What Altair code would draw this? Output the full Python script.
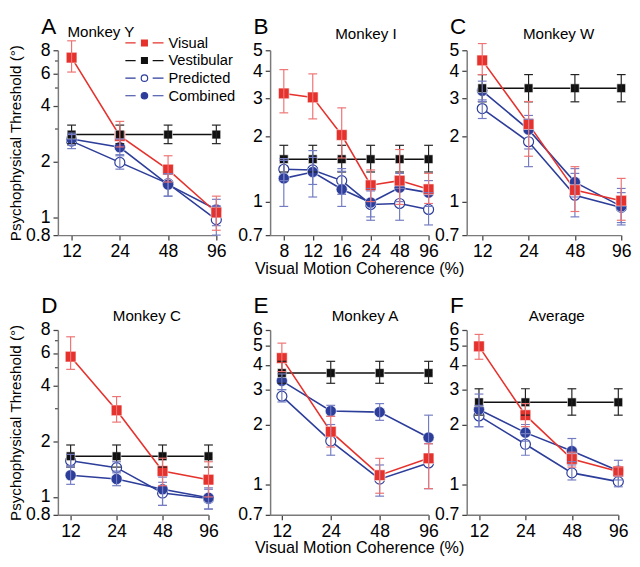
import altair as alt
import pandas as pd

FONT = "Liberation Sans"
SERIES = ["Visual", "Vestibular", "Predicted", "Combined"]
RED, BLACK, BLUE = "#E5322D", "#111111", "#2C3D9A"
LINE_COL = {"Visual": RED, "Vestibular": BLACK, "Predicted": BLUE, "Combined": BLUE}
ERR_COL = {"Visual": "#EE7373", "Vestibular": "#222222", "Predicted": "#737CC2", "Combined": "#737CC2"}

# ---------------- data ----------------
# Panel A - Monkey Y
A_coh = ["12", "24", "48", "96"]
A_vis = [7.3, 2.75, 1.81, 1.06]
A_vis_lo = [6.1, 2.4, 1.55, 0.85]
A_vis_hi = [9.0, 3.3, 2.15, 1.3]
A_ves = [2.8, 2.8, 2.8, 2.8]
A_ves_lo = [2.5, 2.5, 2.5, 2.5]
A_ves_hi = [3.15, 3.15, 3.15, 3.15]
A_pre = [2.58, 1.98, 1.52, 0.97]
A_pre_lo = [2.35, 1.82, 1.3, 0.8]
A_pre_hi = [2.8, 2.18, 1.72, 1.15]
A_com = [2.65, 2.39, 1.5, 1.1]
A_com_lo = [2.45, 2.15, 1.3, 0.9]
A_com_hi = [2.85, 2.65, 1.72, 1.25]

# Panel B - Monkey I
B_coh = ["8", "12", "16", "24", "48", "96"]
B_vis = [3.16, 3.03, 2.03, 1.19, 1.25, 1.14]
B_vis_lo = [2.57, 2.41, 1.59, 1.0, 0.97, 0.98]
B_vis_hi = [4.07, 3.89, 2.71, 1.4, 1.74, 1.35]
B_ves = [1.57, 1.57, 1.57, 1.57, 1.57, 1.57]
B_ves_lo = [1.37, 1.37, 1.37, 1.37, 1.37, 1.37]
B_ves_hi = [1.82, 1.82, 1.82, 1.82, 1.82, 1.82]
B_pre = [1.41, 1.40, 1.25, 0.97, 0.98, 0.92]
B_pre_lo = [1.25, 1.2, 1.08, 0.82, 0.82, 0.78]
B_pre_hi = [1.58, 1.6, 1.42, 1.12, 1.15, 1.1]
B_com = [1.28, 1.37, 1.14, 0.99, 1.16, 1.10]
B_com_lo = [0.95, 1.05, 0.95, 0.85, 1.0, 0.95]
B_com_hi = [1.55, 1.72, 1.38, 1.15, 1.35, 1.25]

# Panel C - Monkey W
C_coh = ["12", "24", "48", "96"]
C_vis = [4.49, 2.28, 1.13, 1.01]
C_vis_lo = [3.86, 1.62, 0.9, 0.82]
C_vis_hi = [5.37, 2.9, 1.45, 1.28]
C_ves = [3.34, 3.34, 3.34, 3.34]
C_ves_lo = [2.89, 2.89, 2.89, 2.89]
C_ves_hi = [3.86, 3.86, 3.86, 3.86]
C_pre = [2.69, 1.89, 1.07, 0.94]
C_pre_lo = [2.42, 1.45, 0.85, 0.78]
C_pre_hi = [2.95, 2.4, 1.35, 1.1]
C_com = [3.25, 2.15, 1.23, 0.95]
C_com_lo = [2.9, 1.75, 1.05, 0.8]
C_com_hi = [3.6, 2.5, 1.42, 1.15]

# Panel D - Monkey C
D_coh = ["12", "24", "48", "96"]
D_vis = [5.74, 2.94, 1.38, 1.24]
D_vis_lo = [4.9, 2.54, 1.15, 1.0]
D_vis_hi = [7.35, 3.49, 1.62, 1.55]
D_ves = [1.66, 1.66, 1.66, 1.66]
D_ves_lo = [1.45, 1.45, 1.45, 1.45]
D_ves_hi = [1.91, 1.91, 1.91, 1.91]
D_pre = [1.57, 1.44, 1.05, 0.98]
D_pre_lo = [1.45, 1.35, 0.9, 0.86]
D_pre_hi = [1.7, 1.55, 1.2, 1.1]
D_com = [1.31, 1.25, 1.10, 0.99]
D_com_lo = [1.17, 1.15, 0.9, 0.86]
D_com_hi = [1.48, 1.38, 1.28, 1.12]

# Panel E - Monkey A
E_coh = ["12", "24", "48", "96"]
E_vis = [4.33, 1.84, 1.11, 1.35]
E_vis_lo = [3.7, 1.54, 0.9, 0.95]
E_vis_hi = [5.15, 2.2, 1.35, 1.6]
E_ves = [3.64, 3.64, 3.64, 3.64]
E_ves_lo = [3.23, 3.23, 3.23, 3.23]
E_ves_hi = [4.17, 4.17, 4.17, 4.17]
E_pre = [2.78, 1.65, 1.06, 1.28]
E_pre_lo = [2.6, 1.4, 0.87, 0.95]
E_pre_hi = [3.0, 2.0, 1.25, 1.6]
E_com = [3.32, 2.34, 2.31, 1.72]
E_com_lo = [3.0, 2.2, 2.1, 0.95]
E_com_hi = [3.6, 2.5, 2.55, 2.23]

# Panel F - Average
F_coh = ["12", "24", "48", "96"]
F_vis = [4.96, 2.23, 1.34, 1.16]
F_vis_lo = [4.27, 1.95, 1.22, 1.1]
F_vis_hi = [5.7, 2.55, 1.45, 1.22]
F_ves = [2.59, 2.59, 2.59, 2.59]
F_ves_lo = [2.23, 2.23, 2.23, 2.23]
F_ves_hi = [3.03, 3.03, 3.03, 3.03]
F_pre = [2.21, 1.59, 1.14, 1.03]
F_pre_lo = [1.95, 1.4, 1.05, 0.97]
F_pre_hi = [2.5, 1.8, 1.25, 1.1]
F_com = [2.38, 1.82, 1.47, 1.17]
F_com_lo = [1.95, 1.65, 1.3, 1.05]
F_com_hi = [2.85, 2.0, 1.7, 1.32]

PANEL_LETTERS = ["A", "B", "C", "D", "E", "F"]
PANEL_TITLES = ["Monkey Y", "Monkey I", "Monkey W", "Monkey C", "Monkey A", "Average"]
Y_TITLE = "Psychophysical Threshold (°)"
X_TITLE = "Visual Motion Coherence (%)"

# legend symbols: line - marker - line
SQ_PATH = "M-6.5,0H-3M-1,-1H1V1H-1ZM2.8,0H6.5"
CI_PATH = "M-6.5,0H-3M1.1,0A1.1,1.1,0,1,1,-1.1,0A1.1,1.1,0,1,1,1.1,0ZM2.8,0H6.5"


def panel_df(coh, series):
    rows = []
    for s, (m, lo, hi) in series.items():
        for i in range(len(coh)):
            rows.append({"series": s, "i": i, "m": m[i], "lo": lo[i], "hi": hi[i]})
    return pd.DataFrame(rows)


def make_panel(idx, coh, series, width, pad, ydom, yticks, minor, title_x, title_y,
               xtitle=False, ytitle=False, legend=False):
    df = panel_df(coh, series)
    n = len(coh)
    lab_expr = "[" + ",".join("'%s'" % c for c in coh) + "][datum.value]"
    common_x = dict(values=list(range(n)), labelExpr=lab_expr, grid=False, labelFlush=False,
                    labelOverlap=False)
    if xtitle:
        xaxis = alt.Axis(title=X_TITLE, titleX=91, titleY=26, titleFontSize=16.5, **common_x)
    else:
        xaxis = alt.Axis(title=None, **common_x)
    common_y = dict(values=yticks, format="~g", grid=False, labelOverlap=False, labelFlush=False)
    if ytitle:
        yaxis = alt.Axis(title=Y_TITLE, titlePadding=2, **common_y)
    else:
        yaxis = alt.Axis(title=None, **common_y)
    xs = alt.Scale(domain=[-pad, n - 1], nice=False, zero=False)
    ys = alt.Scale(type="log", domain=ydom, nice=False)
    X = alt.X("i:Q", scale=xs, axis=xaxis)

    def Y(f):
        return alt.Y(f + ":Q", scale=ys, axis=yaxis)

    line_order = ["Vestibular", "Predicted", "Combined", "Visual"]
    marker_order = ["Predicted", "Combined", "Visual", "Vestibular"]
    layers = []
    for s in line_order:
        d = df[df.series == s]
        layers.append(alt.Chart(d).mark_line(color=LINE_COL[s], strokeWidth=1.6).encode(x=X, y=Y("m")))
    for s in marker_order:
        d = df[df.series == s]
        if s == "Visual":
            mk = alt.Chart(d).mark_point(shape="square", filled=True, fill=RED, stroke="white",
                                         strokeWidth=0.6, size=120, opacity=1)
        elif s == "Vestibular":
            mk = alt.Chart(d).mark_point(shape="square", filled=True, fill=BLACK, stroke="white",
                                         strokeWidth=0.6, size=80, opacity=1)
        elif s == "Predicted":
            mk = alt.Chart(d).mark_point(shape="circle", filled=True, fill="white", stroke=BLUE,
                                         strokeWidth=1.2, size=105, opacity=1)
        else:
            mk = alt.Chart(d).mark_point(shape="circle", filled=True, fill=BLUE, stroke="white",
                                         strokeWidth=0.6, size=130, opacity=1)
        layers.append(mk.encode(x=X, y=Y("m")))
    for s in line_order:
        d = df[df.series == s]
        layers.append(alt.Chart(d).mark_rule(color=ERR_COL[s], strokeWidth=1.2).encode(
            x=X, y=Y("lo"), y2="hi:Q"))
        for f in ["lo", "hi"]:
            layers.append(alt.Chart(d).mark_tick(color=ERR_COL[s], orient="horizontal", size=9,
                                                 thickness=1.2, opacity=1).encode(x=X, y=Y(f)))
    if minor:
        layers.append(alt.Chart(pd.DataFrame({"v": minor})).mark_rule(color="#444", strokeWidth=1.2).encode(
            y=Y("v"), x=alt.value(-3), x2=alt.value(0)))
    layers.append(alt.Chart(pd.DataFrame({"t": [PANEL_LETTERS[idx]]})).mark_text(
        align="left", baseline="alphabetic", fontSize=23, font=FONT, color="black").encode(
        text="t:N", x=alt.value(-17), y=alt.value(-17)))
    layers.append(alt.Chart(pd.DataFrame({"t": [PANEL_TITLES[idx]]})).mark_text(
        align="center", baseline="alphabetic", fontSize=15.5, font=FONT, color="black").encode(
        text="t:N", x=alt.value(title_x), y=alt.value(title_y)))
    if legend:
        leg = alt.Legend(title=None, orient="none", legendX=81, legendY=-15, labelFontSize=15,
                         labelFont=FONT, labelColor="black", symbolSize=36, symbolStrokeWidth=1.2,
                         labelOffset=17, rowPadding=2, symbolOpacity=1, padding=0)
        ld = pd.DataFrame({"series": SERIES})
        layers.append(alt.Chart(ld).mark_point(opacity=0, filled=False, size=36).encode(
            color=alt.Color("series:N", scale=alt.Scale(domain=SERIES, range=[RED, BLACK, BLUE, BLUE]),
                            legend=leg, sort=SERIES),
            fill=alt.Fill("series:N", scale=alt.Scale(domain=SERIES, range=[RED, BLACK, "white", BLUE]),
                          legend=leg, sort=SERIES),
            shape=alt.Shape("series:N", scale=alt.Scale(domain=SERIES, range=[SQ_PATH, SQ_PATH, CI_PATH, CI_PATH]),
                            legend=leg, sort=SERIES),
        ))
    return alt.layer(*layers).properties(width=width, height=189)


def spacer(w):
    return alt.Chart(pd.DataFrame({"t": [""]})).mark_text(opacity=0).encode(
        text="t:N", x=alt.value(0), y=alt.value(0)).properties(width=w, height=189)


pA = make_panel(0, A_coh, {"Visual": (A_vis, A_vis_lo, A_vis_hi), "Vestibular": (A_ves, A_ves_lo, A_ves_hi),
                           "Predicted": (A_pre, A_pre_lo, A_pre_hi), "Combined": (A_com, A_com_lo, A_com_hi)},
                162, 0.284, [0.8, 8], [0.8, 1, 2, 4, 6, 8], [3, 5, 7], 44, -14, ytitle=True, legend=True)
pB = make_panel(1, B_coh, {"Visual": (B_vis, B_vis_lo, B_vis_hi), "Vestibular": (B_ves, B_ves_lo, B_ves_hi),
                           "Predicted": (B_pre, B_pre_lo, B_pre_hi), "Combined": (B_com, B_com_lo, B_com_hi)},
                162, 0.473, [0.7, 5], [0.7, 1, 2, 3, 4, 5], None, 98, -12, xtitle=True)
pC = make_panel(2, C_coh, {"Visual": (C_vis, C_vis_lo, C_vis_hi), "Vestibular": (C_ves, C_ves_lo, C_ves_hi),
                           "Predicted": (C_pre, C_pre_lo, C_pre_hi), "Combined": (C_com, C_com_lo, C_com_hi)},
                158, 0.335, [0.7, 5], [0.7, 1, 2, 3, 4, 5], None, 94, -12)
pD = make_panel(3, D_coh, {"Visual": (D_vis, D_vis_lo, D_vis_hi), "Vestibular": (D_ves, D_ves_lo, D_ves_hi),
                           "Predicted": (D_pre, D_pre_lo, D_pre_hi), "Combined": (D_com, D_com_lo, D_com_hi)},
                154, 0.277, [0.8, 8], [0.8, 1, 2, 4, 6, 8], [3, 5, 7], 91, -9, ytitle=True)
pE = make_panel(4, E_coh, {"Visual": (E_vis, E_vis_lo, E_vis_hi), "Vestibular": (E_ves, E_ves_lo, E_ves_hi),
                           "Predicted": (E_pre, E_pre_lo, E_pre_hi), "Combined": (E_com, E_com_lo, E_com_hi)},
                162, 0.24, [0.7, 6], [0.7, 1, 2, 3, 4, 5, 6], None, 97, -9, xtitle=True)
pF = make_panel(5, F_coh, {"Visual": (F_vis, F_vis_lo, F_vis_hi), "Vestibular": (F_ves, F_ves_lo, F_ves_hi),
                           "Predicted": (F_pre, F_pre_lo, F_pre_hi), "Combined": (F_com, F_com_lo, F_com_hi)},
                155, 0.264, [0.7, 6], [0.7, 1, 2, 3, 4, 5, 6], None, 92, -9)

chart = alt.concat(
    pA, spacer(47), pB, spacer(37), pC,
    pD, spacer(55), pE, spacer(39), pF,
    columns=5,
    spacing=alt.RowColnumber(row=97, column=0),
    align="none",
    bounds="flush",
).properties(padding={"top": 1, "left": 0, "right": 0, "bottom": 0}).configure_view(
    stroke="transparent").configure_axis(
    labelFont=FONT, titleFont=FONT, labelFontSize=18, titleFontSize=15.5, labelColor="black",
    titleColor="black", titleFontWeight="normal", domainColor="#7a7a7a", domainWidth=1.5,
    tickColor="#444444", tickWidth=1.3, tickSize=5, labelPadding=3, grid=False,
)

chart.save("out.html", embed_options={"renderer": "svg", "actions": False})
